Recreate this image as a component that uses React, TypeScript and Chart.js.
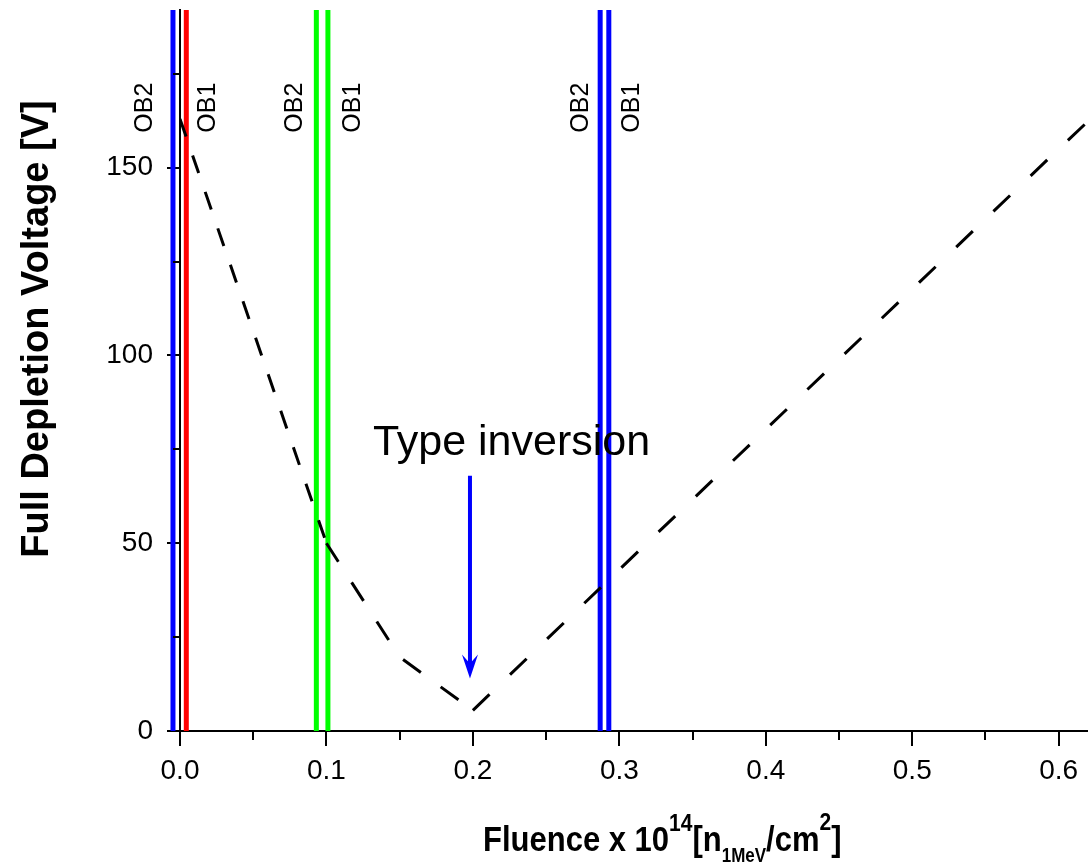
import React, { useEffect, useRef } from "react";
import { Chart, registerables } from "chart.js";

Chart.register(...registerables);

// ---- data ----
const curveX = [0, 0.1, 0.15, 0.2, 0.3, 0.6, 0.64];
const curveY = [163, 50, 19.7, 5.5, 43, 155, 169.7];

const lineX = [-0.0048, 0.0043, 0.0931, 0.101, 0.2869, 0.2928];
const lineColor = ["#0000ff", "#ff0000", "#00ff00", "#00ff00", "#0000ff", "#0000ff"];
const lineLabel = ["OB2", "OB1", "OB2", "OB1", "OB2", "OB1"];

const xTicks = [0, 0.1, 0.2, 0.3, 0.4, 0.5, 0.6];
const xMinor = [0.05, 0.15, 0.25, 0.35, 0.45, 0.55];
const yTicks = [0, 50, 100, 150];
const yMinor = [25, 75, 125, 175];

const xMin = 0;
const xMax = 0.62;
const yMin = 0;
const yMax = 192;

const arrowX = 0.198;
const arrowFrom = 68;
const arrowTo = 14;
const annotText = "Type inversion";
const annotX = 0.1317;
const annotY = 73.5;
const labelY = 166;

const yTitle = "Full Depletion Voltage [V]";

// ---- styling ----
const FONT = '"Liberation Sans", Arial, sans-serif';
const labelOffsets = [-29, 21, -22, 24, -20, 22];

const overlay = {
  id: "overlay",
  afterDatasetsDraw(chart: any) {
    const ctx: CanvasRenderingContext2D = chart.ctx;
    const xs = chart.scales.x;
    const ys = chart.scales.y;
    const a = chart.chartArea;
    ctx.save();

    // minor ticks
    ctx.strokeStyle = "#000";
    ctx.lineWidth = 2;
    ctx.beginPath();
    xMinor.forEach((v) => {
      const px = Math.round(xs.getPixelForValue(v));
      ctx.moveTo(px, a.bottom);
      ctx.lineTo(px, a.bottom + 9);
    });
    yMinor.forEach((v) => {
      const py = Math.round(ys.getPixelForValue(v));
      ctx.moveTo(a.left, py);
      ctx.lineTo(a.left - 7, py);
    });
    ctx.stroke();

    // OB labels
    ctx.fillStyle = "#000";
    ctx.font = `25px ${FONT}`;
    ctx.textAlign = "center";
    ctx.textBaseline = "middle";
    lineX.forEach((v, i) => {
      const px = xs.getPixelForValue(v) + labelOffsets[i];
      const py = ys.getPixelForValue(labelY);
      ctx.save();
      ctx.translate(px, py);
      ctx.rotate(-Math.PI / 2);
      ctx.fillText(lineLabel[i], 0, 1);
      ctx.restore();
    });

    // Type inversion text
    ctx.font = `43px ${FONT}`;
    ctx.textAlign = "left";
    ctx.textBaseline = "alphabetic";
    ctx.fillText(annotText, xs.getPixelForValue(annotX), ys.getPixelForValue(annotY));

    // arrow
    const ax = xs.getPixelForValue(arrowX);
    const ay0 = ys.getPixelForValue(arrowFrom);
    const ay1 = ys.getPixelForValue(arrowTo);
    ctx.strokeStyle = "#0000ff";
    ctx.fillStyle = "#0000ff";
    ctx.lineWidth = 4;
    ctx.beginPath();
    ctx.moveTo(ax, ay0);
    ctx.lineTo(ax, ay1 - 12);
    ctx.stroke();
    ctx.beginPath();
    ctx.moveTo(ax, ay1);
    ctx.lineTo(ax - 8, ay1 - 24);
    ctx.lineTo(ax, ay1 - 15);
    ctx.lineTo(ax + 8, ay1 - 24);
    ctx.closePath();
    ctx.fill();

    // y title
    ctx.fillStyle = "#000";
    ctx.font = `bold 38px ${FONT}`;
    ctx.textAlign = "center";
    ctx.textBaseline = "middle";
    ctx.save();
    ctx.translate(38, 329);
    ctx.rotate(-Math.PI / 2);
    ctx.fillText(yTitle, 0, 0);
    ctx.restore();

    // x title with super/subscripts
    const runs: [string, number, number][] = [
      ["Fluence x 10", 31, 0],
      ["14", 21, -20],
      ["[n", 31, 0],
      ["1MeV", 17, 11],
      ["/cm", 31, 0],
      ["2", 21, -21],
      ["]", 31, 0],
    ];
    ctx.textAlign = "left";
    ctx.textBaseline = "alphabetic";
    let x = 483;
    const base = 851;
    const sy = 1.15;
    runs.forEach(([t, s, dy]) => {
      ctx.font = `bold ${s}px ${FONT}`;
      ctx.save();
      ctx.translate(x, base + dy);
      ctx.scale(1, sy);
      ctx.fillText(t, 0, 0);
      ctx.restore();
      x += ctx.measureText(t).width;
    });

    ctx.restore();
  },
};

export default function App() {
  const ref = useRef<HTMLCanvasElement | null>(null);

  useEffect(() => {
    if (!ref.current) return;
    const datasets: any[] = [
      {
        data: curveX.map((x, i) => ({ x, y: curveY[i] })),
        borderColor: "#000",
        borderWidth: 3,
        borderCapStyle: "butt",
        pointRadius: 0,
        tension: 0,
        segment: {
          borderDash: (c: any) => {
            const x0 = c.p0.parsed.x;
            return x0 < 0.099 ? [18.6, 20] : x0 < 0.199 ? [22, 24.5] : [23, 28.5];
          },
        },
      },
      ...lineX.map((x, i) => ({
        data: [
          { x, y: yMin },
          { x, y: yMax },
        ],
        borderColor: lineColor[i],
        borderWidth: 5,
        pointRadius: 0,
        clip: false,
      })),
    ];

    const chart = new Chart(ref.current, {
      type: "line",
      data: { datasets },
      options: {
        responsive: false,
        animation: false,
        devicePixelRatio: 1,
        layout: { padding: { top: 10, right: 0, left: 0, bottom: 0 } },
        plugins: { legend: { display: false }, tooltip: { enabled: false } },
        scales: {
          x: {
            type: "linear",
            min: xMin,
            max: xMax,
            afterBuildTicks: (s: any) => {
              s.ticks = xTicks.map((v) => ({ value: v }));
            },
            afterFit: (s: any) => {
              s.height = 132;
              s.paddingLeft = 0;
              s.paddingRight = 0;
            },
            border: { display: true, color: "#000", width: 2 },
            grid: {
              drawOnChartArea: false,
              drawTicks: true,
              tickLength: 15,
              color: "#000",
              lineWidth: 2,
            },
            ticks: {
              autoSkip: false,
              maxRotation: 0,
              padding: 8,
              color: "#000",
              font: { family: FONT, size: 28 },
              callback: (v: any) => Number(v).toFixed(1),
            },
          },
          y: {
            type: "linear",
            min: yMin,
            max: yMax,
            afterBuildTicks: (s: any) => {
              s.ticks = yTicks.map((v) => ({ value: v }));
            },
            afterFit: (s: any) => {
              s.width = 180;
              s.paddingTop = 0;
              s.paddingBottom = 0;
            },
            border: { display: true, color: "#000", width: 2 },
            grid: {
              drawOnChartArea: false,
              drawTicks: true,
              tickLength: 13,
              color: "#000",
              lineWidth: 2,
            },
            ticks: {
              autoSkip: false,
              padding: 14,
              color: "#000",
              font: { family: FONT, size: 28 },
              callback: (v: any) => String(v),
            },
          },
        },
      },
      plugins: [overlay],
    });
    return () => chart.destroy();
  }, []);

  return (
    <div style={{ position: "fixed", left: 0, top: 0, width: 1088, height: 863, background: "#fff" }}>
      <canvas ref={ref} width={1088} height={863} style={{ width: 1088, height: 863, display: "block" }} />
    </div>
  );
}
